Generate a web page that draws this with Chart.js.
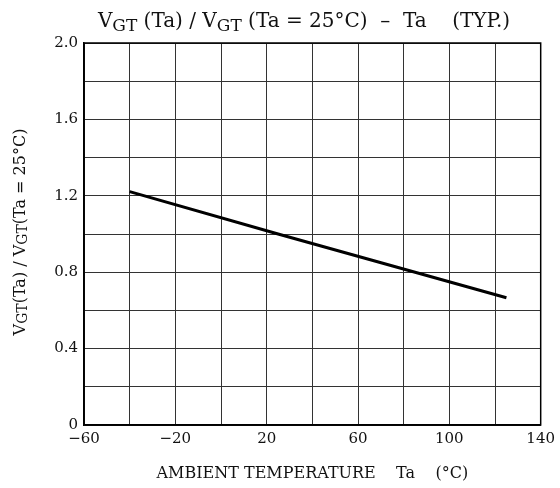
<!DOCTYPE html>
<html>
<head>
<meta charset="utf-8">
<script src="https://cdn.jsdelivr.net/npm/chart.js@4/dist/chart.umd.min.js"></script>
<style>
html,body{margin:0;padding:0;background:#fff;}
#wrap{width:560px;height:488px;position:relative;}
</style>
</head>
<body>
<div id="wrap"><canvas id="c" width="560" height="488"></canvas></div>
<script>
// Data
const temperatures = [-40, 25, 125];
const vgtRatio = [1.222, 1.0, 0.666];
const xTickLabels = ['\u221260', '\u221220', '20', '60', '100', '140'];
const yTickLabels = ['0', '0.4', '0.8', '1.2', '1.6', '2.0'];
const titleParts = [['V', 0], ['GT', 1], [' (Ta) / V', 0], ['GT', 1], [' (Ta = 25\u00B0C)  \u2013  Ta    (TYP.)', 0]];
const yTitleParts = [['V', 0], ['GT', 1], ['(Ta) / V', 0], ['GT', 1], ['(Ta = 25\u00B0C)', 0]];
const xTitle = 'AMBIENT TEMPERATURE    Ta    (\u00B0C)';

const FONT = '"DejaVu Serif", "Liberation Serif", serif';
const xLabelValues = [-60, -20, 20, 60, 100, 140];
const yLabelValues = [0, 0.4, 0.8, 1.2, 1.6, 2.0];

function drawRich(ctx, parts, size, cx, cy, subDrop) {
  let w = 0;
  const subSize = Math.round(size * 0.85);
  parts.forEach(p => {
    ctx.font = (p[1] ? subSize : size) + 'px ' + FONT;
    w += ctx.measureText(p[0]).width;
  });
  let x = cx - w / 2;
  ctx.textBaseline = 'alphabetic';
  ctx.textAlign = 'left';
  parts.forEach(p => {
    ctx.font = (p[1] ? subSize : size) + 'px ' + FONT;
    ctx.fillText(p[0], x, cy + (p[1] ? size * subDrop : 0));
    x += ctx.measureText(p[0]).width;
  });
}

const titlesPlugin = {
  id: 'titles',
  afterDraw(chart) {
    const ctx = chart.ctx;
    const a = chart.chartArea;
    ctx.save();
    ctx.fillStyle = '#111';
    drawRich(ctx, titleParts, 20, 304, 27, 0.22);
    ctx.font = '16px ' + FONT;
    ctx.textAlign = 'center';
    ctx.textBaseline = 'alphabetic';
    ctx.fillText(xTitle, (a.left + a.right) / 2, 478);
    ctx.translate(25, (a.top + a.bottom) / 2 - 2);
    ctx.rotate(-Math.PI / 2);
    drawRich(ctx, yTitleParts, 16, 0, 0, 0.15);
    ctx.restore();
  }
};

new Chart(document.getElementById('c'), {
  type: 'line',
  data: {
    datasets: [{
      data: temperatures.map((t, i) => ({x: t, y: vgtRatio[i]})),
      borderColor: '#000',
      borderWidth: 3,
      pointRadius: 0,
      tension: 0,
      fill: false
    }]
  },
  options: {
    responsive: false,
    animation: false,
    devicePixelRatio: 1,
    layout: {padding: {top: 43, right: 16, left: 0, bottom: 0}},
    plugins: {legend: {display: false}, tooltip: {enabled: false}, title: {display: false}},
    scales: {
      x: {
        type: 'linear', min: -60, max: 140,
        afterFit(s) { s.height = 63; },
        ticks: {
          stepSize: 20, padding: 5, color: '#111', maxRotation: 0, autoSkip: false,
          font: {family: FONT, size: 15},
          callback(v) { const i = xLabelValues.indexOf(v); return i >= 0 ? xTickLabels[i] : ''; }
        },
        grid: {color: '#333', lineWidth: 1, drawTicks: false},
        border: {color: '#000', width: 1.5}
      },
      y: {
        type: 'linear', min: 0, max: 2.0,
        afterFit(s) { s.width = 84; },
        ticks: {
          stepSize: 0.2, padding: 6, color: '#111', autoSkip: false,
          font: {family: FONT, size: 15},
          callback(v) {
            const i = yLabelValues.findIndex(q => Math.abs(q - v) < 1e-6);
            return i >= 0 ? yTickLabels[i] : '';
          }
        },
        grid: {color: '#333', lineWidth: 1, drawTicks: false},
        border: {color: '#000', width: 1.5}
      }
    }
  },
  plugins: [titlesPlugin, {
    id: 'frame',
    afterDatasetsDraw(chart) {
      const a = chart.chartArea, ctx = chart.ctx;
      ctx.save();
      ctx.strokeStyle = '#000';
      ctx.lineWidth = 1.5;
      ctx.strokeRect(a.left, a.top, a.right - a.left, a.bottom - a.top);
      ctx.restore();
    }
  }]
});
</script>
</body>
</html>
